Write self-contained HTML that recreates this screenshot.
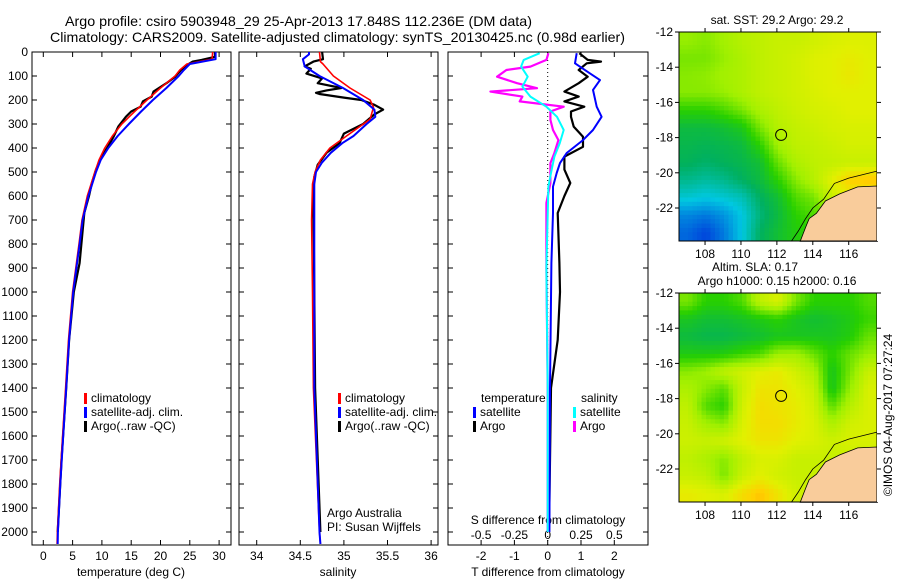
<!DOCTYPE html>
<html><head><meta charset="utf-8">
<style>
html,body{margin:0;padding:0;background:#fff;}
svg{display:block;font-family:"Liberation Sans",sans-serif;}
text{fill:#000;}
</style></head>
<body>
<svg id="c" width="900" height="580" viewBox="0 0 900 580" xmlns="http://www.w3.org/2000/svg">
<text x="65" y="26" font-size="14" textLength="467" lengthAdjust="spacingAndGlyphs">Argo profile: csiro 5903948_29 25-Apr-2013 17.848S 112.236E (DM data)</text>
<text x="50" y="42" font-size="14" textLength="575" lengthAdjust="spacingAndGlyphs">Climatology: CARS2009. Satellite-adjusted climatology: synTS_20130425.nc (0.98d earlier)</text>
<text x="777" y="24" font-size="12" text-anchor="middle">sat. SST: 29.2 Argo: 29.2</text>
<text x="755" y="271" font-size="12" text-anchor="middle">Altim. SLA: 0.17</text>
<text x="777" y="285" font-size="12" text-anchor="middle">Argo h1000: 0.15 h2000: 0.16</text>
<text transform="translate(892,415) rotate(-90)" font-size="12" text-anchor="middle">©IMOS 04-Aug-2017 07:27:24</text>
<g id="g"></g>
</svg>
<script>
// ---- profile data ----
const tempClimDepth=[0,30,50,75,100,150,200,250,300,350,400,450,500,600,700,800,1000,1200,1400,1600,1800,2000,2050];
const tempClim=[28.9,28.8,24.5,23.3,22.5,20.0,17.7,15.5,13.4,11.8,10.5,9.5,8.8,7.5,6.6,6.1,5.0,4.3,3.8,3.3,2.8,2.4,2.35];
const tempSat=[29.4,29.4,25.0,24.0,23.1,21.0,18.7,16.6,14.6,12.7,11.1,9.8,9.0,7.7,6.7,6.2,5.1,4.4,3.9,3.4,2.9,2.5,2.45];
const argoDepth=[0,20,33,40,47,75,103,130,165,186,206,228,248,270,311,353,395,436,490,546,600,671,879,1000,1200,1400,1700,2000];
const tempArgo=[29.3,29.3,27.0,25.5,25.0,23.5,22.5,21.0,18.8,18.5,17.0,16.6,15.0,14.1,12.8,12.0,11.0,10.0,9.0,8.3,7.8,7.0,6.2,5.2,4.4,3.9,3.1,2.45];
const salClimDepth=[0,40,50,100,150,200,230,280,350,400,450,500,550,700,1000,1400,2000,2050];
const salClim=[34.72,34.73,34.76,34.88,35.07,35.3,35.34,35.3,35.03,34.84,34.73,34.67,34.64,34.63,34.64,34.65,34.72,34.73];
const salSatDepth=[0,10,30,60,100,150,200,240,270,300,350,380,420,460,500,550,700,1000,1400,2000,2050];
const salSat=[34.6,34.6,34.53,34.55,34.72,34.99,35.22,35.35,35.36,35.26,35.11,34.98,34.85,34.75,34.68,34.66,34.66,34.66,34.66,34.72,34.73];
const salArgoDepth=[0,30,40,60,70,90,110,130,150,160,170,175,190,200,220,240,260,300,340,380,420,470,520,600,1000,1400,2000];
const salArgo=[34.75,34.76,34.65,34.55,34.62,34.57,34.75,34.7,34.97,34.8,34.68,34.72,35.0,35.2,35.35,35.45,35.35,35.22,35.0,34.95,34.8,34.7,34.66,34.65,34.66,34.67,34.73];
const tdSatDepth=[5,47,89,117,158,228,270,325,367,421,463,504,561,671,879,1400,2000];
const tdSat=[0.87,0.82,1.27,1.57,1.36,1.47,1.62,1.36,1.06,0.57,0.37,0.27,0.16,0.16,0.11,0.07,0.05];
const tdArgoDepth=[5,33,40,47,75,103,130,165,186,206,228,248,270,311,353,395,436,490,546,600,671,879,1000,1200,1400,2000];
const tdArgo=[0.95,1.2,1.6,1.17,0.93,1.2,0.93,0.5,0.93,0.5,1.1,0.7,0.7,0.78,1.06,1.06,0.5,0.5,0.68,0.5,0.3,0.35,0.37,0.3,0.1,0.04];
const sdArgoDepth=[5,33,61,75,103,130,151,165,186,206,228,248,283,325,367,421,463,546,629,900,1400,2000];
const sdArgo=[0.005,-0.01,-0.13,-0.31,-0.38,-0.23,-0.08,-0.43,-0.19,-0.21,0.12,0.02,0.02,0.04,0.08,0.05,0.02,0.02,-0.01,-0.01,0.0,0.0];
const sdSatDepth=[5,33,61,103,144,186,228,270,325,381,436,490,560,900,1400,2000];
const sdSat=[-0.06,-0.18,-0.2,-0.15,-0.19,-0.13,-0.01,0.07,0.12,0.09,0.05,0.03,0.005,-0.01,0.0,0.0];
const depthTicks=[0,100,200,300,400,500,600,700,800,900,1000,1100,1200,1300,1400,1500,1600,1700,1800,1900,2000];
const tempTicks=[0,5,10,15,20,25,30];
const salTicks=[34,34.5,35,35.5,36];
const salTickLabels=["34","34.5","35","35.5","36"];
const tdTicks=[-2,-1,0,1,2];
const sdTicks=[-0.5,-0.25,0,0.25,0.5];
const sdTickLabels=["-0.5","-0.25","0","0.25","0.5"];
// ---- map data (rows from -12 southward, cols from 106.5 east) ----
const sstGrid=[
[.64,.62,.66,.7,.72,.74,.74,.76,.78,.79,.79],
[.6,.6,.64,.68,.72,.74,.76,.79,.8,.82,.8],
[.62,.63,.66,.68,.72,.74,.76,.79,.8,.83,.8],
[.62,.62,.64,.68,.72,.74,.76,.78,.8,.8,.8],
[.5,.5,.54,.6,.68,.72,.75,.77,.78,.8,.8],
[.4,.4,.42,.46,.6,.7,.73,.75,.77,.78,.78],
[.38,.37,.38,.4,.5,.66,.72,.73,.75,.77,.77],
[.36,.34,.36,.38,.42,.58,.68,.72,.73,.74,.74],
[.3,.28,.3,.35,.4,.5,.62,.7,.8,.9,.92],
[.22,.2,.22,.25,.35,.42,.55,.6,.75,.8,.8],
[.1,.08,.12,.2,.32,.4,.5,.55,.6,.6,.6],
[.05,0,.08,.2,.35,.42,.48,.5,.5,.5,.5]];
const slaGrid=[
[.6,.5,.5,.55,.72,.78,.6,.5,.5,.5,.55],
[.45,.42,.42,.44,.47,.5,.45,.42,.44,.47,.52],
[.4,.38,.38,.4,.42,.45,.45,.45,.45,.48,.58],
[.47,.47,.48,.52,.55,.65,.66,.58,.5,.58,.64],
[.62,.65,.72,.76,.8,.82,.76,.68,.45,.6,.74],
[.68,.62,.56,.74,.84,.84,.8,.74,.45,.64,.78],
[.72,.55,.5,.76,.86,.84,.82,.76,.56,.7,.78],
[.74,.66,.62,.78,.86,.86,.82,.78,.68,.76,.78],
[.75,.74,.76,.8,.84,.84,.8,.78,.75,.78,.78],
[.72,.68,.62,.72,.78,.78,.74,.74,.74,.74,.74],
[.74,.72,.6,.74,.8,.76,.74,.74,.74,.74,.74],
[.82,.8,.78,.86,.92,.84,.76,.76,.76,.76,.76]];
const coastLon=[117.6,116.5,115.5,114.7,114.2,113.8,113.6,113.3,117.6];
const coastLat=[-20.75,-20.8,-21.2,-21.6,-22.3,-22.6,-23.1,-23.9,-23.9];
const isoLon=[117.6,116,115.2,114.6,114.0,113.6,113.2,112.8];
const isoLat=[-19.9,-20.3,-20.6,-21.5,-22.0,-22.6,-23.3,-23.9];
const floatLon=112.236, floatLat=-17.848;
const lonTicks=[108,110,112,114,116];
const latTicks=[-12,-14,-16,-18,-20,-22];

const NS="http://www.w3.org/2000/svg";
const G=document.getElementById('g');
function mk(tag,attrs,parent){const e=document.createElementNS(NS,tag);for(const k in attrs)e.setAttribute(k,attrs[k]);(parent||G).appendChild(e);return e;}
function txt(x,y,s,size,anchor){const t=mk('text',{x:x,y:y,'font-size':size||12,'text-anchor':anchor||'middle'});t.textContent=s;return t;}

const Y0=52, Y1=545;
const yD=d=>Y0+d*0.24;
function panel(x0,x1,name){
  const r=mk('rect',{x:x0,y:Y0,width:x1-x0,height:Y1-Y0,fill:'none',stroke:'#000','stroke-width':1});
  
  
  depthTicks.forEach(d=>{mk('line',{x1:x0,x2:x0+5,y1:yD(d),y2:yD(d),stroke:'#000'});mk('line',{x1:x1,x2:x1-5,y1:yD(d),y2:yD(d),stroke:'#000'});});
}
function line(xs,ds,xf,color,w,name){
  const pts=xs.map((v,i)=>xf(v).toFixed(1)+','+yD(ds[i]).toFixed(1)).join(' ');
  const p=mk('polyline',{points:pts,fill:'none',stroke:color,'stroke-width':w,'stroke-linejoin':'round'});
  
  
}
function legendRow(x,y,color,label,name){
  mk('rect',{x:x,y:y-9,width:3,height:11,fill:color});
  const t=txt(x+7,y,label,12,'start');
  
  
}

// Panel 1 temperature
const xT=v=>43.3+v*5.86;
panel(32,231,'temperature-panel');
depthTicks.forEach(d=>{const t=txt(28,yD(d)+4,String(d),12,'end');});
tempTicks.forEach(v=>{mk('line',{x1:xT(v),x2:xT(v),y1:Y1,y2:Y1-5,stroke:'#000'});mk('line',{x1:xT(v),x2:xT(v),y1:Y0,y2:Y0+5,stroke:'#000'});const t=txt(xT(v),560,String(v));});
{const t=txt(131,576,'temperature (deg C)');}
line(tempArgo,argoDepth,xT,'#000',2.2,'temperature-argo-line');
line(tempClim,tempClimDepth,xT,'#f00',1.6,'temperature-climatology-line');
line(tempSat,tempClimDepth,xT,'#00f',2,'temperature-satellite-line');
legendRow(84,402,'#f00','climatology','legend-climatology');
legendRow(84,416,'#00f','satellite-adj. clim.','legend-satellite-adj');
legendRow(84,430,'#000','Argo(..raw -QC)','legend-argo');

// Panel 2 salinity
const xS=v=>256.7+(v-34)*87.2;
panel(239,438,'salinity-panel');
salTicks.forEach((v,i)=>{mk('line',{x1:xS(v),x2:xS(v),y1:Y1,y2:Y1-5,stroke:'#000'});mk('line',{x1:xS(v),x2:xS(v),y1:Y0,y2:Y0+5,stroke:'#000'});const t=txt(xS(v),560,salTickLabels[i]);});
{const t=txt(338,576,'salinity');}
line(salArgo,salArgoDepth,xS,'#000',2.2,'salinity-argo-line');
line(salClim,salClimDepth,xS,'#f00',1.6,'salinity-climatology-line');
line(salSat,salSatDepth,xS,'#00f',2,'salinity-satellite-line');
legendRow(338,402,'#f00','climatology','legend-climatology-2');
legendRow(338,416,'#00f','satellite-adj. clim.','legend-satellite-adj-2');
legendRow(338,430,'#000','Argo(..raw -QC)','legend-argo-2');
{const t=txt(327,517,'Argo Australia',12,'start');}
{const t=txt(327,531,'PI: Susan Wijffels',12,'start');}

// Panel 3 differences
const xTd=v=>547.7+v*33.3;
const xSd=v=>547.7+v*133.2;
panel(448,648,'difference-panel');
mk('line',{x1:547.7,x2:547.7,y1:Y0,y2:Y1,stroke:'#000','stroke-dasharray':'1,3'});
tdTicks.forEach(v=>{mk('line',{x1:xTd(v),x2:xTd(v),y1:Y1,y2:Y1-5,stroke:'#000'});mk('line',{x1:xTd(v),x2:xTd(v),y1:Y0,y2:Y0+5,stroke:'#000'});const t=txt(xTd(v),560,String(v));});
sdTicks.forEach((v,i)=>{const t=txt(xSd(v),539,sdTickLabels[i]);});
{const t=txt(548,524,'S difference from climatology');}
{const t=txt(548,576,'T difference from climatology');}
line(tdArgo,tdArgoDepth,xTd,'#000',2.2,'t-diff-argo-line');
line(tdSat,tdSatDepth,xTd,'#00f',2,'t-diff-satellite-line');
line(sdArgo,sdArgoDepth,xSd,'#f0f',2.2,'s-diff-argo-line');
line(sdSat,sdSatDepth,xSd,'#0ff',2,'s-diff-satellite-line');
{const t=txt(481,402,'temperature',12,'start');}
{const t=txt(581,402,'salinity',12,'start');}
legendRow(473,416,'#00f','satellite','legend-t-satellite');
legendRow(473,430,'#000','Argo','legend-t-argo');
legendRow(573,416,'#0ff','satellite','legend-s-satellite');
legendRow(573,430,'#f0f','Argo','legend-s-argo');

// Maps
const stops=[[0,[0,70,220]],[0.2,[0,200,225]],[0.35,[0,176,96]],[0.5,[40,208,0]],[0.65,[160,240,0]],[0.8,[225,240,0]],[0.9,[255,208,0]],[1,[255,144,0]]];
function cmap(v){v=Math.max(0,Math.min(1,v));for(let i=1;i<stops.length;i++){if(v<=stops[i][0]){const a=stops[i-1],b=stops[i],f=(v-a[0])/(b[0]-a[0]);const c=a[1].map((x,j)=>Math.round(x+(b[1][j]-x)*f));return 'rgb('+c.join(',')+')';}}return 'rgb(255,144,0)';}
function sample(grid,fy,fx){
  const rows=grid.length, cols=grid[0].length;
  const y=Math.max(0,Math.min(rows-1,fy-0.5)), x=Math.max(0,Math.min(cols-1,fx-0.5));
  const i0=Math.floor(y), j0=Math.floor(x), i1=Math.min(rows-1,i0+1), j1=Math.min(cols-1,j0+1);
  const a=y-i0, b=x-j0;
  return grid[i0][j0]*(1-a)*(1-b)+grid[i0][j1]*(1-a)*b+grid[i1][j0]*a*(1-b)+grid[i1][j1]*a*b;
}
function map(top,grid,name){
  const L=679,R=877,B=top+209;
  const lx=lon=>L+(lon-106.55)*17.96;
  const ly=lat=>top+(-12-lat)*17.6;
  const g=mk('g',{});
  
  
  const rows=grid.length, cols=grid[0].length, up=4;
  const cw=(R-L)/(cols*up), ch=(B-top)/(rows*up);
  for(let i=0;i<rows*up;i++)for(let j=0;j<cols*up;j++){
    const v=sample(grid,(i+0.5)/up,(j+0.5)/up);
    const c=mk('rect',{x:(L+j*cw).toFixed(2),y:(top+i*ch).toFixed(2),width:(cw+0.5).toFixed(2),height:(ch+0.5).toFixed(2),fill:cmap(v)},g);
    
    
  }
  const land=mk('polygon',{points:coastLon.map((v,i)=>lx(v).toFixed(1)+','+ly(coastLat[i]).toFixed(1)).join(' '),fill:'#f9cc9b',stroke:'#000','stroke-width':0.8},g);
  
  
  const iso=mk('polyline',{points:isoLon.map((v,i)=>lx(v).toFixed(1)+','+ly(isoLat[i]).toFixed(1)).join(' '),fill:'none',stroke:'#000','stroke-width':0.8},g);
  
  
  const fl=mk('circle',{cx:lx(floatLon),cy:ly(floatLat),r:5.5,fill:'none',stroke:'#000','stroke-width':1},g);
  
  
  mk('rect',{x:L,y:top,width:R-L,height:B-top,fill:'none',stroke:'#000'},g);
  mk('rect',{x:R,y:top,width:2,height:B-top,fill:'#fff'},g);
  lonTicks.forEach(v=>{mk('line',{x1:lx(v),x2:lx(v),y1:top,y2:top-4,stroke:'#000'},g);mk('line',{x1:lx(v),x2:lx(v),y1:B,y2:B+4,stroke:'#000'},g);const t=txt(lx(v),B+17,String(v));});
  latTicks.forEach(v=>{mk('line',{x1:L,x2:L-4,y1:ly(v),y2:ly(v),stroke:'#000'},g);mk('line',{x1:R,x2:R+4,y1:ly(v),y2:ly(v),stroke:'#000'},g);const t=txt(673,ly(v)+4,String(v),12,'end');});
}
map(32,sstGrid,'sst-map');
map(293,slaGrid,'sla-map');
</script>
</body></html>
